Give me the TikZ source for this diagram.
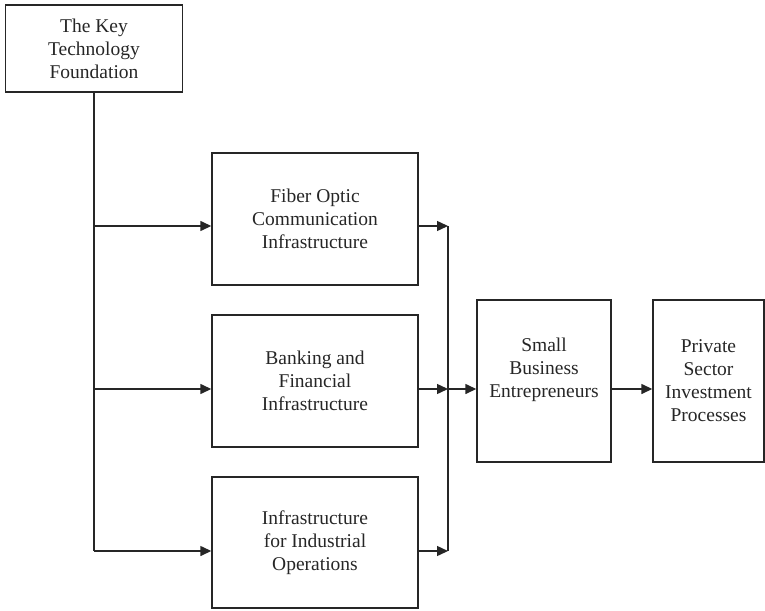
\documentclass[tikz,border=0pt]{standalone}
\usepackage{fontspec}
\setmainfont{Liberation Serif}
\usetikzlibrary{arrows.meta}
\begin{document}
\begin{tikzpicture}[x=1pt,y=-1pt,
  every node/.style={font=\fontsize{19.5}{23}\selectfont, text=black!85},
  box/.style={draw=black!85, line width=1.4pt, rectangle, inner sep=0pt, align=center},
  link/.style={draw=black!85, line width=1.4pt},
  arr/.style={link, -{Triangle[length=11pt,width=10pt]}}]
  \useasboundingbox (0,0) rectangle (765,610);

  % boxes
  \node[box, minimum width=177pt, minimum height=87pt] (key) at (94,48.5)
    {The Key\\Technology\\Foundation};
  \node[box, minimum width=206pt, minimum height=132pt] (fiber) at (315,219)
    {Fiber Optic\\Communication\\Infrastructure};
  \node[box, minimum width=206pt, minimum height=132pt] (bank) at (315,381)
    {Banking and\\Financial\\Infrastructure};
  \node[box, minimum width=206pt, minimum height=131pt] (infra) at (315,542.5)
    {Infrastructure\\for Industrial\\Operations};
  \node[box, minimum width=134pt, minimum height=162pt] (small) at (544,381) {};
  \node[align=center, inner sep=0pt] (smalltxt) at (544,370)
    {Small\\Business\\Entrepreneurs};
  \node[box, minimum width=111pt, minimum height=162pt] (private) at (708.5,381)
    {Private\\Sector\\Investment\\Processes};

  % levels of the connectors
  \coordinate (yA) at (0,226);
  \coordinate (yB) at (0,389);
  \coordinate (yC) at (0,551);
  \coordinate (bus) at (448,0);

  % trunk from the foundation and its branches
  \draw[link] (key.south) -- (key.south |- yC);
  \draw[arr] (key.south |- yA) -- (fiber.west |- yA);
  \draw[arr] (key.south |- yB) -- (bank.west |- yB);
  \draw[arr] (key.south |- yC) -- (infra.west |- yC);

  % collecting bus
  \draw[arr] (fiber.east |- yA) -- (bus |- yA);
  \draw[arr] (bank.east |- yB) -- (bus |- yB);
  \draw[arr] (infra.east |- yC) -- (bus |- yC);
  \draw[link] (bus |- yA) -- (bus |- yC);

  \draw[arr] (bus |- yB) -- (small.west |- yB);
  \draw[arr] (small.east |- yB) -- (private.west |- yB);
\end{tikzpicture}
\end{document}
